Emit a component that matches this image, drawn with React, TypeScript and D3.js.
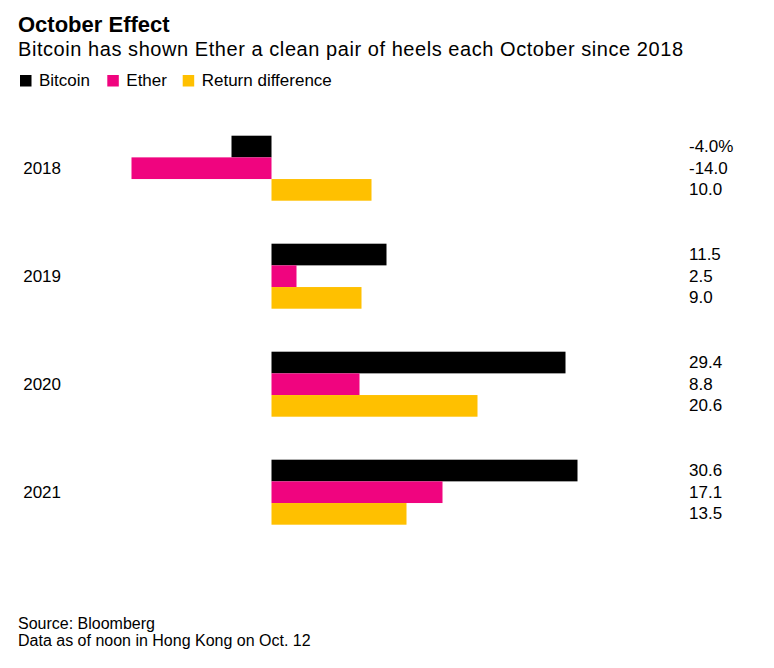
import React from "react";
import * as d3 from "d3";

const years = ["2018", "2019", "2020", "2021"];
const seriesNames = ["Bitcoin", "Ether", "Return difference"];
const bitcoin = [-4.0, 11.5, 29.4, 30.6];
const ether = [-14.0, 2.5, 8.8, 17.1];
const returnDiff = [10.0, 9.0, 20.6, 13.5];
const colors = ["#000000", "#F0047F", "#FFC000"];

const title = "October Effect";
const subtitle = "Bitcoin has shown Ether a clean pair of heels each October since 2018";
const footnotes = ["Source: Bloomberg", "Data as of noon in Hong Kong on Oct. 12"];

const W = 774;
const H = 668;
const FONT = "'Liberation Sans', Arial, Helvetica, sans-serif";

export default function App() {
  const series = [bitcoin, ether, returnDiff];

  const x = d3.scaleLinear().domain([0, 10]).range([271.5, 371.5]);
  const y = d3
    .scaleBand<string>()
    .domain(years)
    .range([114.1, 546.3])
    .paddingInner(0.398)
    .paddingOuter(0.2);
  const inner = d3
    .scaleBand<string>()
    .domain(seriesNames)
    .range([0, y.bandwidth()])
    .padding(0);

  const fmt = (v: number, i: number, s: number) =>
    v.toFixed(1) + (i === 0 && s === 0 ? "%" : "");

  const legendX = [20, 107.3, 182.7];

  return (
    <svg
      width={W}
      height={H}
      style={{ position: "absolute", left: 0, top: 0, background: "#fff" }}
      fontFamily={FONT}
    >
      <rect x={0} y={0} width={W} height={H} fill="#fff" />
      <text x={18} y={31.5} fontSize={22} fontWeight="bold" fill="#000">
        {title}
      </text>
      <text
        x={18}
        y={56}
        fontSize={20}
        fill="#000"
        textLength={665}
        lengthAdjust="spacing"
      >
        {subtitle}
      </text>
      {seriesNames.map((name, i) => (
        <g key={name}>
          <rect x={legendX[i]} y={75} width={11.5} height={11.5} fill={colors[i]} />
          <text x={legendX[i] + 19} y={85.5} fontSize={17} fill="#000">
            {name}
          </text>
        </g>
      ))}

      {years.map((yr, gi) => {
        const gy = y(yr) as number;
        return (
          <g key={yr}>
            <text
              x={61}
              y={gy + y.bandwidth() / 2 + 6}
              fontSize={17}
              textAnchor="end"
              fill="#000"
            >
              {yr}
            </text>
            {seriesNames.map((name, si) => {
              const v = series[si][gi];
              const by = gy + (inner(name) as number);
              const x0 = x(Math.min(0, v));
              const x1 = x(Math.max(0, v));
              return (
                <g key={name}>
                  <rect
                    x={x0}
                    y={by}
                    width={x1 - x0}
                    height={inner.bandwidth()}
                    fill={colors[si]}
                  />
                  <text
                    x={689}
                    y={by + inner.bandwidth() / 2 + 5.5}
                    fontSize={17}
                    fill="#000"
                  >
                    {fmt(v, gi, si)}
                  </text>
                </g>
              );
            })}
          </g>
        );
      })}

      {footnotes.map((t, i) => (
        <text key={t} x={18} y={628.5 + i * 17.5} fontSize={16} fill="#000">
          {t}
        </text>
      ))}
    </svg>
  );
}
